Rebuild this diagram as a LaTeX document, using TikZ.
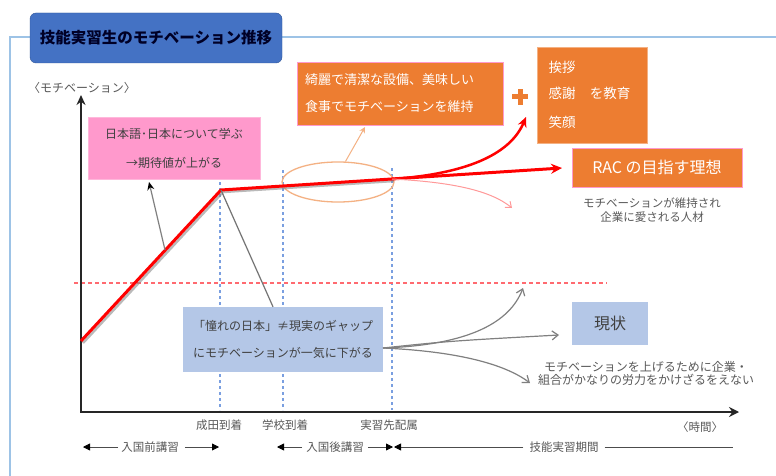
\documentclass[tikz,border=0pt]{standalone}
\usepackage{fontspec}
\newfontfamily\jp{Noto Sans CJK JP}
\usetikzlibrary{arrows.meta,shapes.geometric}
\definecolor{framecol}{HTML}{9DC3E6}
\definecolor{titlefill}{HTML}{4472C4}
\definecolor{titledraw}{HTML}{2F5597}
\definecolor{pinkfill}{HTML}{FF99CC}
\definecolor{orangefill}{HTML}{ED7D31}
\definecolor{bluefill}{HTML}{B4C7E7}
\definecolor{dashblue}{HTML}{7A9FE0}
\definecolor{dashred}{HTML}{FF6A70}
\definecolor{txtgray}{HTML}{595959}
\definecolor{ellcol}{HTML}{F4B183}
\definecolor{redline}{HTML}{FF0000}
\definecolor{fadered}{HTML}{FF9999}
\definecolor{curvegray}{HTML}{808080}
\tikzset{
  every node/.style={font=\jp, inner sep=0pt},
  titlebox/.style={draw=titledraw, fill=titlefill, rounded corners=6pt, minimum width=252pt, minimum height=50pt, font=\jp\bfseries\fontsize{15.5}{18}\selectfont, text=black!85!blue},
  pinkbox/.style={fill=pinkfill, draw=pinkfill!70!white, minimum width=172pt, minimum height=62pt, align=center, font=\jp\fontsize{12}{29}\selectfont, text=black!75},
  orangebox/.style={fill=orangefill, draw=pinkfill, line width=0.8pt, align=left, font=\jp\fontsize{13}{27}\selectfont, text=white},
  bluebox/.style={fill=bluefill, minimum width=200pt, minimum height=65pt, align=center, font=\jp\fontsize{12}{27}\selectfont, text=black!75},
  note/.style={text=txtgray, align=center, font=\jp\fontsize{11.5}{14}\selectfont},
  axlabel/.style={text=txtgray, font=\jp\fontsize{11.5}{14}\selectfont},
  axisline/.style={line width=2.4pt, draw=black!85},
  vdash/.style={draw=dashblue, line width=1.2pt, dash pattern=on 3pt off 3pt},
  hdash/.style={draw=dashred, line width=1.2pt, dash pattern=on 4pt off 3pt},
  grayarrow/.style={curvegray, line width=1.2pt, -{Straight Barb[length=6pt,width=9pt]}},
  bracket/.style={black!70, line width=0.8pt},
}
\begin{document}
\begin{tikzpicture}[x=1pt,y=-1pt]
\useasboundingbox (0,0) rectangle (776,476);
\fill[white] (0,0) rectangle (776,476);
% outer frame
\draw[framecol, line width=1.3pt] (776,37) -- (10,37) -- (10,476);
% title
\node[titlebox] (title) at (156,38) {技能実習生のモチベーション推移};
% y label
\node[axlabel, font=\jp\fontsize{12}{14}\selectfont] (ylab) at (82,88) {〈モチベーション〉};

% dashed guides
\coordinate (v1t) at (220,182); \coordinate (v1b) at (220,410);
\coordinate (v2t) at (283,170); \coordinate (v2b) at (283,410);
\coordinate (v3t) at (392,168); \coordinate (v3b) at (392,410);
\draw[vdash] (v1t) -- (v1b);
\draw[vdash] (v2t) -- (v2b);
\draw[vdash] (v3t) -- (v3b);
\coordinate (h1) at (74,283); \coordinate (h2) at (607,283);
\draw[hdash] (h1) -- (h2);

% axes
\coordinate (ytop) at (81,95);
\coordinate (O) at (81,412);
\coordinate (xend) at (739,412);
\draw[axisline, {Stealth[length=10pt,width=9pt]}-{Stealth[length=10pt,width=10pt]}] (ytop) -- (O) -- (xend);

% boxes
\node[pinkbox] (pink) at (174,148) {日本語･日本について学ぶ\\→期待値が上がる};
\node[orangebox, minimum width=206pt, minimum height=63pt, text width=190pt] (ob1) at (400,93.5) {綺麗で清潔な設備、美味しい\\食事でモチベーションを維持};
\node[fill=orangefill, draw=ellcol, line width=0.8pt, minimum width=110pt, minimum height=96pt] (ob2) at (592,95) {};
\node[text=white, font=\jp\fontsize{13.5}{16}\selectfont] (g1) at (562,67) {挨拶};
\node[text=white, font=\jp\fontsize{13.5}{16}\selectfont] (g2) at (562,93) {感謝};
\node[text=white, font=\jp\fontsize{13.5}{16}\selectfont] (g3) at (562,122) {笑顔};
\node[text=white, font=\jp\fontsize{13.5}{16}\selectfont] (g4) at (610,93) {を教育};
% plus sign
\fill[orangefill] (512,94.5) rectangle (528,99.5);
\fill[orangefill] (517.5,89) rectangle (522.5,105);

\node[fill=orangefill, draw=pinkfill, line width=0.8pt, minimum width=170pt, minimum height=39pt, text=white, font=\jp\fontsize{16}{18}\selectfont] (rac) at (657,167.5) {RAC の目指す理想};
\node[note] (racnote) at (652,210.5) {モチベーションが維持され\\企業に愛される人材};

\node[bluebox] (blue) at (283,339.5) {「憧れの日本」≠現実のギャップ\\にモチベーションが一気に下がる};
\node[fill=bluefill, minimum width=76pt, minimum height=43pt, text=black!75, font=\jp\fontsize{16}{18}\selectfont] (now) at (610,323.5) {現状};
\node[note, font=\jp\fontsize{12}{13.5}\selectfont] (nownote) at (646,373.5) {モチベーションを上げるために企業・\\組合がかなりの労力をかけざるをえない};

% ellipse
\node[draw=ellcol, line width=1.3pt, ellipse, minimum width=112pt, minimum height=40pt] (ell) at (338,182) {};
\draw[ellcol, line width=1pt, -{Stealth[length=6pt,width=6pt]}] (ell.70) -- (365,127);

% red motivation line
\coordinate (P0) at (81,341);
\coordinate (P1) at (221,190);
\coordinate (J) at (392,179);
\coordinate (P2) at (562,168);
\draw[black!45, line width=2.5pt, opacity=0.6, line join=round] ([shift={(2,2)}]P0) -- ([shift={(2,2)}]P1) -- ([shift={(2,2)}]J);
\draw[redline, line width=3pt, line join=round, -{Stealth[length=11pt,width=10pt]}] (P0) -- (P1) -- (P2);
\draw[redline, line width=2.5pt, -{Stealth[length=10pt,width=9pt]}] (J) .. controls (465,174) and (510,155) .. (526,117);
\draw[fadered, line width=1pt, -{Straight Barb[length=5pt,width=8pt]}] (J) .. controls (450,182) and (490,190) .. (512,208);

% gray connectors
\coordinate (pa) at (165,250);
\draw[black!50, line width=1.2pt, -{Stealth[length=8pt,width=7pt,black]}] (pa) -- (149,182);
\draw[black!55, line width=1.2pt] (P1) -- (blue.north -| 273,0);
\coordinate (bs) at (383,348);
\draw[grayarrow] (bs) .. controls (470,345) and (510,322) .. (523,288);
\draw[grayarrow] (bs) .. controls (450,341) .. (559,335);
\draw[grayarrow] (bs) .. controls (470,352) and (510,368) .. (530,383);

% axis labels
\node[axlabel] (l1) at (219,425) {成田到着};
\node[axlabel] (l2) at (285,425) {学校到着};
\node[axlabel] (l3) at (389,425) {実習先配属};
\node[axlabel] (tl) at (700,427) {〈時間〉};

% periods
\node[axlabel, inner sep=3pt] (t1) at (150,447) {入国前講習};
\node[axlabel, inner sep=4pt] (t2) at (335,447) {入国後講習};
\node[axlabel, inner sep=6pt] (t3) at (564,447) {技能実習期間};
\coordinate (a1) at (83,447); \coordinate (a2) at (219,447);
\coordinate (b1) at (277,447); \coordinate (b2) at (393,447);
\coordinate (c1) at (394,447); \coordinate (c2) at (733,447);
\draw[bracket, -{Triangle[length=7pt,width=7pt,black]}] (t1.west) -- (a1);
\draw[bracket, -{Triangle[length=7pt,width=7pt,black]}] ([xshift=3pt]t1.east) -- (a2);
\draw[bracket, -{Triangle[length=7pt,width=7pt,black]}] (t2.west) -- (b1);
\draw[bracket, -{Triangle[length=7pt,width=7pt,black]}] (t2.east) -- (b2);
\draw[bracket, -{Triangle[length=7pt,width=7pt,black]}] (t3.west) -- (c1);
\draw[bracket] (t3.east) -- (c2);
\end{tikzpicture}
\end{document}
